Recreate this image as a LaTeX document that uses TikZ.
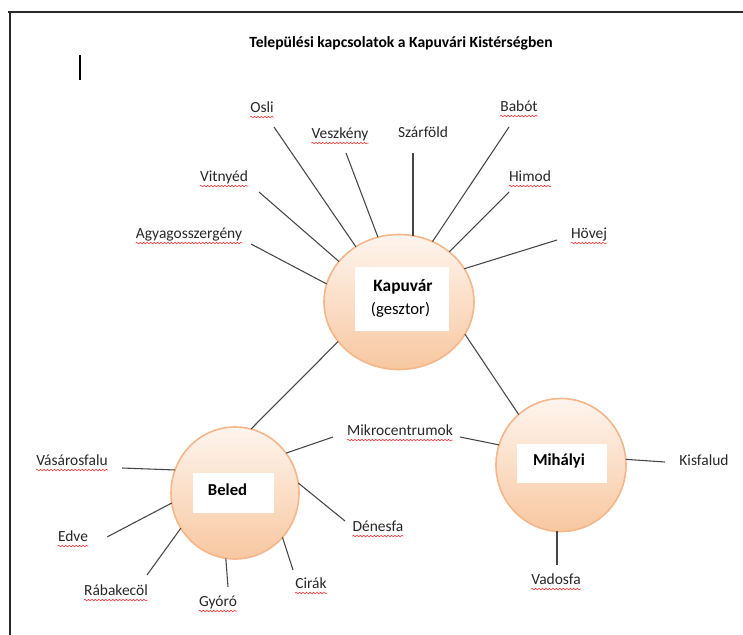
\documentclass[tikz,border=0pt]{standalone}
\usepackage{fontspec}
\setmainfont{Carlito}
\usetikzlibrary{shapes.geometric,decorations.pathmorphing}
\definecolor{cTop}{HTML}{FEF5EE}
\definecolor{cBot}{HTML}{F8C7A0}
\definecolor{cRim}{HTML}{F5B68A}
\definecolor{cLine}{HTML}{454545}
\definecolor{cFrame}{HTML}{2A2A2A}
\begin{document}
\begin{tikzpicture}[x=0.75pt,y=-0.75pt,
  hub/.style={ellipse, draw=cRim, line width=1.2pt, top color=cTop, bottom color=cBot, inner sep=0pt, outer sep=0pt},
  wbox/.style={fill=white, draw=none, inner sep=0pt, outer sep=0pt},
  lbl/.style={font=\fontsize{11.6}{14}\selectfont, text=black!85, inner sep=0pt, text height=8.2pt, text depth=2.3pt},
  hubtext/.style={font=\bfseries\fontsize{12.5}{15}\selectfont, inner sep=0pt},
  conn/.style={draw=cLine, line width=0.8pt},
  squig/.style={draw=red!85, line width=0.4pt, decorate, decoration={snake, segment length=2.6pt, amplitude=0.6pt}},
  framel/.style={draw=cFrame, line width=1.4pt}]
\useasboundingbox (0,0) rectangle (743,635);
% frame and cursor
\draw[framel] (8,12) -- (743,12);
\draw[framel] (10,12) -- (10,635);
\draw[line width=1.1pt] (80,55) -- (80,80);
% title
\node[font=\bfseries\fontsize{11.7}{14}\selectfont, inner sep=0pt] (title) at (401,43) {Települési kapcsolatok a Kapuvári Kistérségben};
% hubs
\node[hub, minimum width=112.5pt, minimum height=101.25pt] (kap) at (399,302) {};
\node[hub, minimum width=96pt, minimum height=99pt] (bel) at (235,493) {};
\node[hub, minimum width=97.5pt, minimum height=99.75pt] (mih) at (561,465) {};
% white boxes
\node[wbox, minimum width=70.5pt, minimum height=48pt] (kapbox) at (402,299) {};
\node[wbox, minimum width=60.75pt, minimum height=30pt] (belbox) at (233.5,493) {};
\node[wbox, minimum width=67.5pt, minimum height=29.25pt] (mihbox) at (562,463.5) {};
\node[hubtext, font=\bfseries\fontsize{13}{15}\selectfont] (kapt) at (403,287) {Kapuvár};
\node[inner sep=0pt, font=\fontsize{12.5}{15}\selectfont] (gesz) at (400.5,310) {(gesztor)};
\node[hubtext] (belt) at (227.5,490) {Beled};
\node[hubtext] (miht) at (559,461) {Mihályi};
% labels
\node[lbl] (osli) at (262,109) {Osli};
\node[lbl] (vesz) at (340,135) {Veszkény};
\node[lbl] (szar) at (423,134) {Szárföld};
\node[lbl] (babot) at (519,108) {Babót};
\node[lbl] (himod) at (530,178) {Himod};
\node[lbl] (hovej) at (589,235) {Hövej};
\node[lbl] (vitn) at (224,178) {Vitnyéd};
\node[lbl] (agy) at (189,235) {Agyagosszergény};
\node[lbl] (mikro) at (400,432) {Mikrocentrumok};
\node[lbl] (vas) at (72,462) {Vásárosfalu};
\node[lbl] (edve) at (73,538) {Edve};
\node[lbl] (raba) at (116,592) {Rábakecöl};
\node[lbl] (gyoro) at (218,603) {Gyóró};
\node[lbl] (cirak) at (311,585) {Cirák};
\node[lbl] (denes) at (378,528) {Dénesfa};
\node[lbl] (kisf) at (704,462) {Kisfalud};
\node[lbl] (vados) at (556,581) {Vadosfa};
% free ends of connectors
\coordinate (osli-e) at (274,127);
\coordinate (vesz-e) at (346,153);
\coordinate (szar-e) at (413,153);
\coordinate (babot-e) at (509,127);
\coordinate (himod-e) at (509,192);
\coordinate (hovej-e) at (557,240);
\coordinate (vitn-e) at (259,192);
\coordinate (agy-e) at (251,244);
\coordinate (mikro-w) at (333,437);
\coordinate (mikro-o) at (460,437);
\coordinate (vas-e) at (122,468);
\coordinate (edve-e) at (107,537);
\coordinate (raba-e) at (147,575);
\coordinate (gyoro-e) at (228,587);
\coordinate (cirak-e) at (293,570);
\coordinate (denes-e) at (345,521);
\coordinate (kisf-e) at (665,462);
\coordinate (vados-e) at (557,565);
% connectors
\draw[conn] (osli-e) -- (kap.128);
\draw[conn] (vesz-e) -- (kap.108);
\draw[conn] (szar-e) -- (szar-e |- kap.78);
\draw[conn] (babot-e) -- (kap.61);
\draw[conn] (himod-e) -- (kap.45);
\draw[conn] (hovej-e) -- (kap.27);
\draw[conn] (vitn-e) -- (kap.146);
\draw[conn] (agy-e) -- (kap.166);
\draw[conn] (kap.213) -- (bel.76);
\draw[conn] (kap.334) -- (mih.130);
\draw[conn] (mikro-w) -- (bel.38);
\draw[conn] (mikro-o) -- (mih.162);
\draw[conn] (vas-e) -- (bel.159);
\draw[conn] (edve-e) -- (bel.189);
\draw[conn] (raba-e) -- (bel.213);
\draw[conn] (gyoro-e) -- (bel.262);
\draw[conn] (cirak-e) -- (bel.317);
\draw[conn] (denes-e) -- (bel.9);
\draw[conn] (kisf-e) -- (mih.5);
\draw[conn] (vados-e) -- (vados-e |- mih.266);
% spell-check squiggles
\foreach \n in {osli,vesz,babot,himod,hovej,vitn,agy,mikro,vas,edve,raba,gyoro,cirak,denes,vados}
  \draw[squig] ([yshift=-0.6pt]\n.south west) -- ([yshift=-0.6pt]\n.south east);
\end{tikzpicture}
\end{document}
